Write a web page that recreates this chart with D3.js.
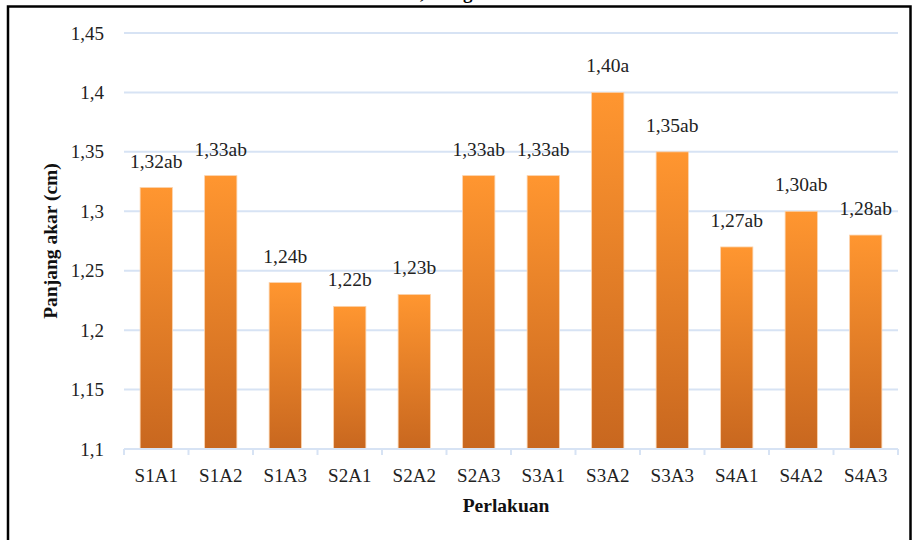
<!DOCTYPE html>
<html>
<head>
<meta charset="utf-8">
<script src="https://cdn.jsdelivr.net/npm/d3@7/dist/d3.min.js"></script>
<style>
  html, body { margin: 0; padding: 0; background: #fff; }
  svg { display: block; }
</style>
</head>
<body>
<div id="chart"></div>
<script>
// data
var categories = ["S1A1", "S1A2", "S1A3", "S2A1", "S2A2", "S2A3", "S3A1", "S3A2", "S3A3", "S4A1", "S4A2", "S4A3"];
var values = [1.32, 1.33, 1.24, 1.22, 1.23, 1.33, 1.33, 1.40, 1.35, 1.27, 1.30, 1.28];
var notations = ["ab", "ab", "b", "b", "b", "ab", "ab", "a", "ab", "ab", "ab", "ab"];
var yTicks = [1.1, 1.15, 1.2, 1.25, 1.3, 1.35, 1.4, 1.45];

var width = 912, height = 540;
var margin = { top: 33, right: 14, bottom: 91, left: 124 };
var plotW = width - margin.left - margin.right;
var plotH = height - margin.top - margin.bottom;

var serif = "'Liberation Serif', 'Times New Roman', serif";
var gridColor = "#d7e3f4";

// comma as decimal separator
var fmtTick = function (d) { return String(+d.toFixed(2)).replace(".", ","); };
var fmtLabel = function (d) { return d.toFixed(2).replace(".", ","); };

var svg = d3.select("#chart").append("svg")
    .attr("width", width)
    .attr("height", height);

var defs = svg.append("defs");
var grad = defs.append("linearGradient")
    .attr("id", "barGrad")
    .attr("x1", 0).attr("y1", 0)
    .attr("x2", 0).attr("y2", 1);
grad.append("stop").attr("offset", "0%").attr("stop-color", "#ff9630");
grad.append("stop").attr("offset", "100%").attr("stop-color", "#c8671f");

// frame (cut off at right and bottom)
svg.append("path")
    .attr("d", "M8,540 V6.5 H910.5 V540")
    .attr("fill", "none")
    .attr("stroke", "#000")
    .attr("stroke-width", 2.5);

// title, only descenders show above the frame
svg.append("text")
    .attr("x", 420).attr("y", -1.5)
    .attr("font-family", serif)
    .attr("font-size", "19px")
    .attr("font-weight", "bold")
    .text(",");
svg.append("text")
    .attr("x", 463).attr("y", -1.5)
    .attr("font-family", serif)
    .attr("font-size", "19px")
    .attr("font-weight", "bold")
    .text("g");

var g = svg.append("g")
    .attr("transform", "translate(" + margin.left + "," + margin.top + ")");

var x = d3.scaleBand()
    .domain(categories)
    .range([0, plotW])
    .padding(0);

var y = d3.scaleLinear()
    .domain([1.1, 1.45])
    .range([plotH, 0]);

// gridlines
g.append("g")
    .selectAll("line")
    .data(yTicks.slice(1))
    .enter().append("line")
    .attr("x1", 0)
    .attr("x2", plotW)
    .attr("y1", function (d) { return y(d); })
    .attr("y2", function (d) { return y(d); })
    .attr("stroke", gridColor)
    .attr("stroke-width", 2);

// y axis labels
var yAxis = g.append("g")
    .call(d3.axisLeft(y).tickValues(yTicks).tickFormat(fmtTick).tickSize(0).tickPadding(20));
yAxis.select(".domain").remove();
yAxis.selectAll("text")
    .attr("font-family", serif)
    .attr("font-size", "19px")
    .attr("fill", "#222");

// bars
var barW = x.bandwidth() * 0.5;
g.append("g")
    .selectAll("rect")
    .data(values)
    .enter().append("rect")
    .attr("x", function (d, i) { return x(categories[i]) + (x.bandwidth() - barW) / 2; })
    .attr("y", function (d) { return y(d); })
    .attr("width", barW)
    .attr("height", function (d) { return plotH - y(d); })
    .attr("fill", "url(#barGrad)")
    .attr("stroke", "#fbd3ad")
    .attr("stroke-width", 0.8);

// data labels
g.append("g")
    .selectAll("text")
    .data(values)
    .enter().append("text")
    .attr("x", function (d, i) { return x(categories[i]) + x.bandwidth() / 2; })
    .attr("y", function (d) { return y(d) - 20; })
    .attr("text-anchor", "middle")
    .attr("font-family", serif)
    .attr("font-size", "19.5px")
    .attr("fill", "#222")
    .text(function (d, i) { return fmtLabel(d) + notations[i]; });

// x axis: line, boundary ticks, centred labels
var xAxis = g.append("g").attr("transform", "translate(0," + plotH + ")");
xAxis.append("line")
    .attr("x1", 0).attr("x2", plotW)
    .attr("stroke", gridColor)
    .attr("stroke-width", 2);
xAxis.selectAll("line.tick")
    .data(categories.concat(["end"]))
    .enter().append("line")
    .attr("class", "tick")
    .attr("x1", function (d, i) { return i * x.step(); })
    .attr("x2", function (d, i) { return i * x.step(); })
    .attr("y1", 0).attr("y2", 6)
    .attr("stroke", gridColor)
    .attr("stroke-width", 2);
xAxis.selectAll("text")
    .data(categories)
    .enter().append("text")
    .attr("x", function (d) { return x(d) + x.bandwidth() / 2; })
    .attr("y", 33)
    .attr("text-anchor", "middle")
    .attr("font-family", serif)
    .attr("font-size", "19px")
    .attr("fill", "#222")
    .text(function (d) { return d; });

// axis titles
svg.append("text")
    .attr("x", margin.left + plotW / 2 - 5)
    .attr("y", 512)
    .attr("text-anchor", "middle")
    .attr("font-family", serif)
    .attr("font-size", "19.5px")
    .attr("font-weight", "bold")
    .attr("fill", "#111")
    .text("Perlakuan");

svg.append("text")
    .attr("transform", "translate(57," + (margin.top + plotH / 2) + ") rotate(-90)")
    .attr("text-anchor", "middle")
    .attr("font-family", serif)
    .attr("font-size", "19.5px")
    .attr("font-weight", "bold")
    .attr("fill", "#111")
    .text("Panjang akar (cm)");
</script>
</body>
</html>
